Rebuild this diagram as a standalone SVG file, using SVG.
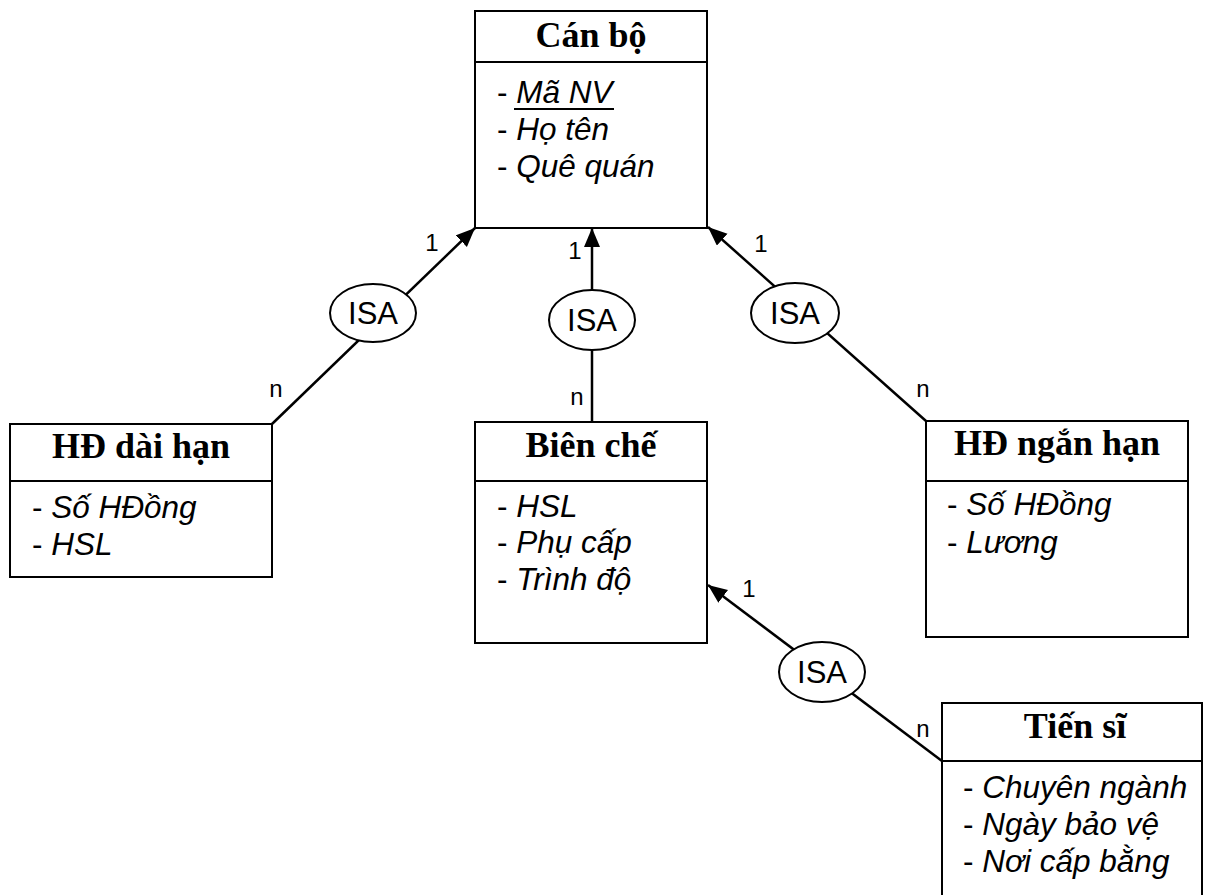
<svg xmlns="http://www.w3.org/2000/svg" width="1208" height="895" viewBox="0 0 1208 895">
<style>
.box{fill:#fff;stroke:#000;stroke-width:2}
.div{stroke:#000;stroke-width:2}
.title{font-family:"Liberation Serif","Times New Roman",serif;font-weight:bold;font-size:36px;text-anchor:middle;fill:#000}
.attr{font-family:"Liberation Sans",Arial,sans-serif;font-style:italic;font-size:31.5px;fill:#000}
.dash{font-style:normal}
.isa{fill:#fff;stroke:#000;stroke-width:2}
.isat{font-family:"Liberation Sans",Arial,sans-serif;font-size:31px;text-anchor:middle;fill:#000}
.lab{font-family:"Liberation Sans",Arial,sans-serif;font-size:24px;text-anchor:middle;fill:#000}
.conn{stroke:#000;stroke-width:2.5;fill:none}
</style>
<defs>
<marker id="arr" markerUnits="userSpaceOnUse" markerWidth="22" markerHeight="18" refX="19" refY="8" orient="auto">
<path d="M0,0 L19,8 L0,16 Z" fill="#000"/>
</marker>
</defs>
<g id="connectors">
<line class="conn" x1="272" y1="424" x2="475" y2="228" marker-end="url(#arr)"/>
<line class="conn" x1="592" y1="422" x2="592" y2="228" marker-end="url(#arr)"/>
<line class="conn" x1="926" y1="421" x2="708" y2="227" marker-end="url(#arr)"/>
<line class="conn" x1="942" y1="761" x2="708" y2="585" marker-end="url(#arr)"/>
<text class="lab" x="432" y="251">1</text>
<text class="lab" x="276" y="397">n</text>
<text class="lab" x="575" y="259">1</text>
<text class="lab" x="577" y="405">n</text>
<text class="lab" x="761" y="252">1</text>
<text class="lab" x="923" y="397">n</text>
<text class="lab" x="749" y="597">1</text>
<text class="lab" x="923" y="737">n</text>
</g>
<g id="isa1"><ellipse class="isa" cx="373" cy="313" rx="43" ry="29"/><text class="isat" x="373" y="324">ISA</text></g>
<g id="isa2"><ellipse class="isa" cx="592" cy="320" rx="43" ry="30"/><text class="isat" x="592" y="331">ISA</text></g>
<g id="isa3"><ellipse class="isa" cx="795" cy="313" rx="44" ry="30"/><text class="isat" x="795" y="324">ISA</text></g>
<g id="isa4"><ellipse class="isa" cx="822" cy="672" rx="43" ry="30"/><text class="isat" x="822" y="683">ISA</text></g>
<g id="canbo">
<rect class="box" x="475" y="11" width="232" height="217"/>
<line class="div" x1="475" y1="62" x2="708" y2="62"/>
<text class="title" x="591" y="47">Cán bộ</text>
<text class="attr" x="497" y="103"><tspan class="dash">- </tspan>Mã NV</text>
<line x1="514" y1="109" x2="614" y2="109" stroke="#000" stroke-width="2.2"/>
<text class="attr" x="497" y="140"><tspan class="dash">- </tspan>Họ tên</text>
<text class="attr" x="497" y="177"><tspan class="dash">- </tspan>Quê quán</text>
</g>
<g id="hddaihan">
<rect class="box" x="10" y="424" width="262" height="153"/>
<line class="div" x1="10" y1="481" x2="272" y2="481"/>
<text class="title" x="141" y="458">HĐ dài hạn</text>
<text class="attr" x="32" y="518"><tspan class="dash">- </tspan>Số HĐồng</text>
<text class="attr" x="32" y="555"><tspan class="dash">- </tspan>HSL</text>
</g>
<g id="bienche">
<rect class="box" x="475" y="422" width="232" height="221"/>
<line class="div" x1="475" y1="481" x2="708" y2="481"/>
<text class="title" x="591" y="457">Biên chế</text>
<text class="attr" x="497" y="517"><tspan class="dash">- </tspan>HSL</text>
<text class="attr" x="497" y="553"><tspan class="dash">- </tspan>Phụ cấp</text>
<text class="attr" x="497" y="590"><tspan class="dash">- </tspan>Trình độ</text>
</g>
<g id="hdnganhan">
<rect class="box" x="926" y="421" width="262" height="216"/>
<line class="div" x1="926" y1="481" x2="1188" y2="481"/>
<text class="title" x="1057" y="455">HĐ ngắn hạn</text>
<text class="attr" x="947" y="515"><tspan class="dash">- </tspan>Số HĐồng</text>
<text class="attr" x="947" y="553"><tspan class="dash">- </tspan>Lương</text>
</g>
<g id="tiensi">
<rect class="box" x="942" y="703" width="260" height="200"/>
<line class="div" x1="942" y1="761" x2="1202" y2="761"/>
<text class="title" x="1075" y="738">Tiến sĩ</text>
<text class="attr" x="963" y="798"><tspan class="dash">- </tspan>Chuyên ngành</text>
<text class="attr" x="963" y="835"><tspan class="dash">- </tspan>Ngày bảo vệ</text>
<text class="attr" x="963" y="872"><tspan class="dash">- </tspan>Nơi cấp bằng</text>
</g>
</svg>
